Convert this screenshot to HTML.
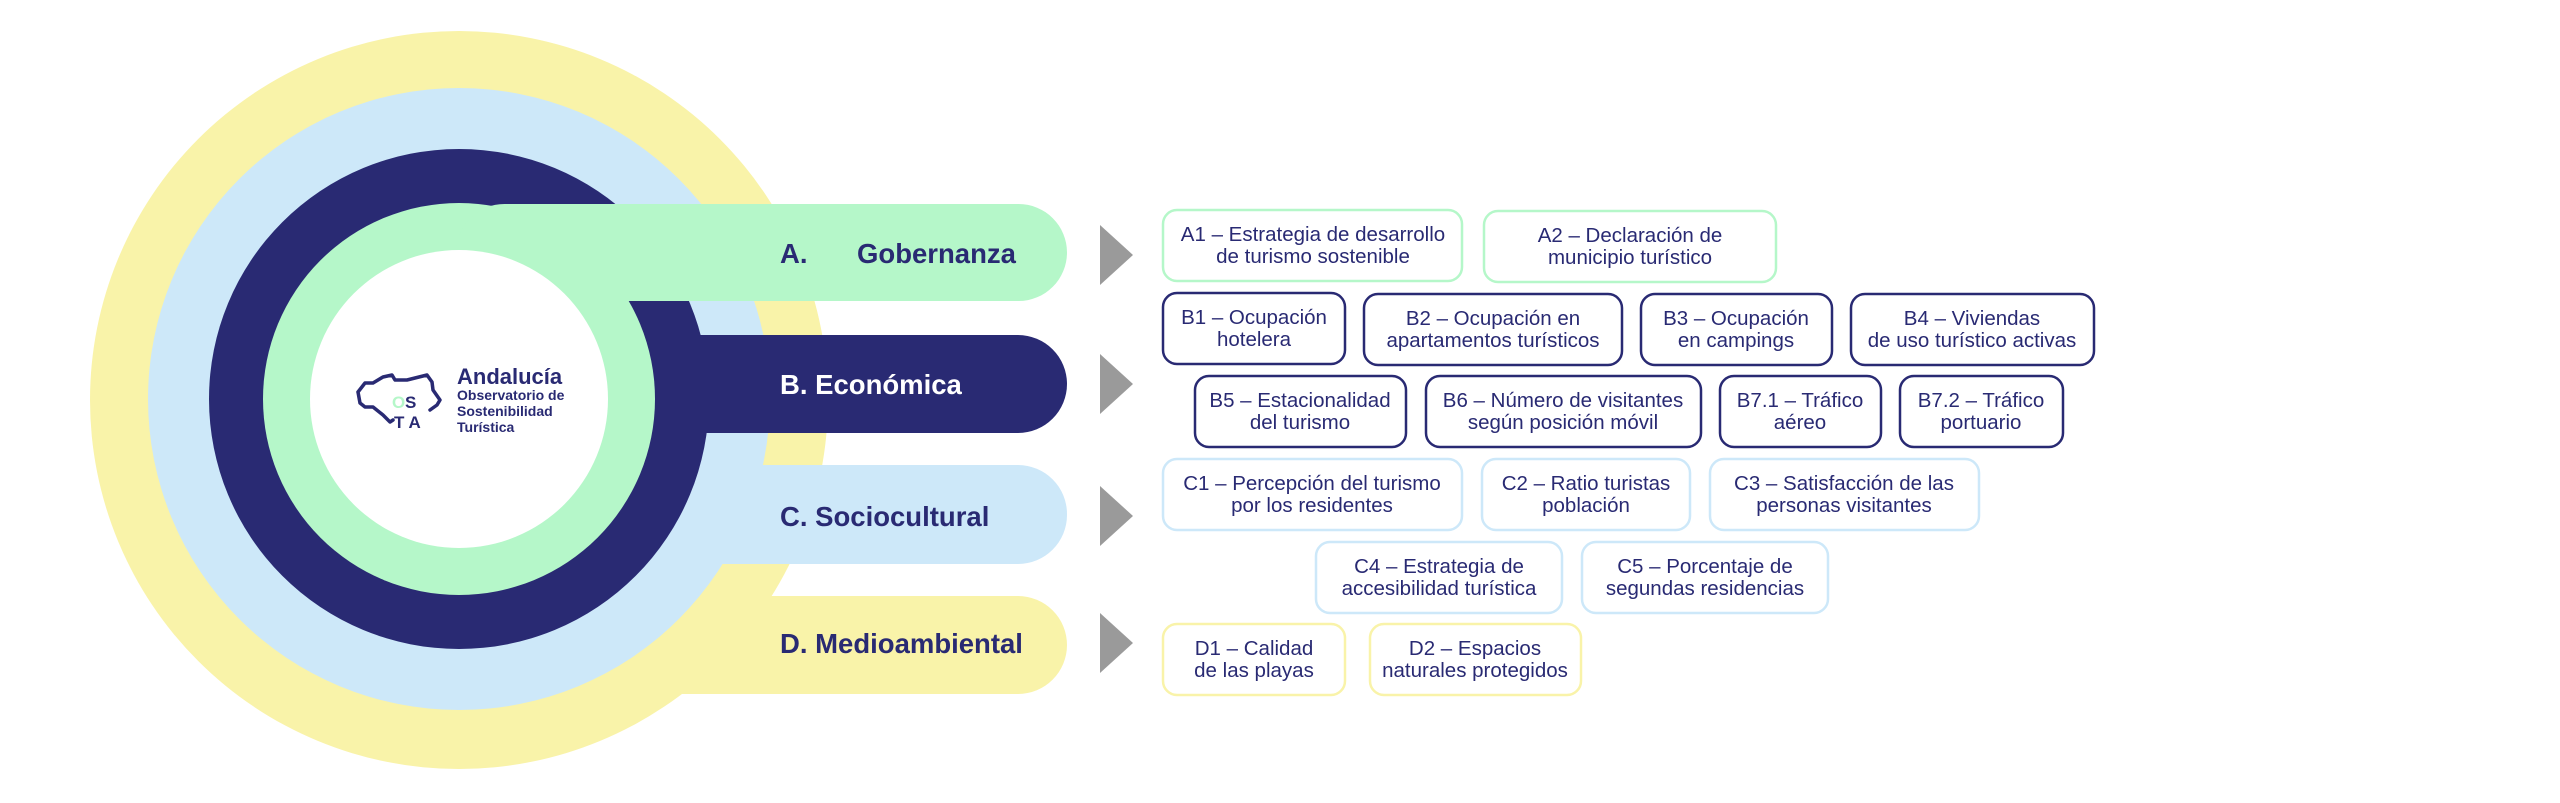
<!DOCTYPE html>
<html><head><meta charset="utf-8"><style>
html,body{margin:0;padding:0;background:#fff;}
svg{display:block}
text{font-family:"Liberation Sans",sans-serif;}
</style></head><body>
<svg width="2560" height="803" viewBox="0 0 2560 803" xmlns="http://www.w3.org/2000/svg">
<rect width="2560" height="803" fill="#fff"/>
<circle cx="459" cy="400" r="369" fill="#f9f3a9"/>
<rect x="456" y="596" width="611" height="98" rx="49" fill="#f9f3a9"/>
<circle cx="459" cy="399" r="311" fill="#cde8f9"/>
<rect x="456" y="465" width="611" height="99" rx="49" fill="#cde8f9"/>
<circle cx="459" cy="399" r="250" fill="#292a73"/>
<rect x="456" y="335" width="611" height="98" rx="49" fill="#292a73"/>
<circle cx="459" cy="399" r="196" fill="#b5f7c9"/>
<rect x="456" y="204" width="611" height="97" rx="48.5" fill="#b5f7c9"/>
<circle cx="459" cy="399" r="149" fill="#fff"/>

<path d="M358,392 L365,383 L373,383 L383,377 L392,375 L395,380 L407,380 L427,375 L432,382 L433,390 L440,400 L437,405 L430,410 M358,392 L360,403 L365,407 L373,407 L383,415 L390,422 L393,420" fill="none" stroke="#292a73" stroke-width="3.5" stroke-linejoin="round" stroke-linecap="round"/>
<text x="392" y="408" font-size="17" font-weight="bold" fill="#b5f7c9">O</text>
<text x="405" y="408" font-size="17" font-weight="bold" fill="#292a73">S</text>
<text x="394" y="428" font-size="17" font-weight="bold" fill="#292a73">T A</text>
<text x="457" y="384" font-size="22" font-weight="bold" fill="#292a73">Andalucía</text>
<text x="457" y="400" font-size="14" font-weight="bold" fill="#292a73">Observatorio de</text>
<text x="457" y="416" font-size="14" font-weight="bold" fill="#292a73">Sostenibilidad</text>
<text x="457" y="432" font-size="14" font-weight="bold" fill="#292a73">Turística</text>

<g font-size="27.5" font-weight="bold">
<text x="780" y="263" fill="#292a73">A.</text>
<text x="857" y="263" fill="#292a73">Gobernanza</text>
<text x="780" y="394" fill="#fff">B. Económica</text>
<text x="780" y="526" fill="#292a73">C. Sociocultural</text>
<text x="780" y="653" fill="#292a73">D. Medioambiental</text>
</g>

<g fill="#9a9a9a">
<polygon points="1100,225 1133,255 1100,285"/>
<polygon points="1100,354 1133,384 1100,414"/>
<polygon points="1100,486 1133,516 1100,546"/>
<polygon points="1100,613 1133,643 1100,673"/>
</g>

<g fill="#fff" stroke-width="2.5">
<g stroke="#b5f7c9">
<rect x="1163" y="210" width="299" height="71" rx="14"/>
<rect x="1484" y="211" width="292" height="71" rx="14"/>
</g>
<g stroke="#292a73">
<rect x="1163" y="293" width="182" height="71" rx="14"/>
<rect x="1364" y="294" width="258" height="71" rx="14"/>
<rect x="1641" y="294" width="191" height="71" rx="14"/>
<rect x="1851" y="294" width="243" height="71" rx="14"/>
<rect x="1195" y="376" width="211" height="71" rx="14"/>
<rect x="1426" y="376" width="275" height="71" rx="14"/>
<rect x="1720" y="376" width="161" height="71" rx="14"/>
<rect x="1900" y="376" width="163" height="71" rx="14"/>
</g>
<g stroke="#cde8f9">
<rect x="1163" y="459" width="299" height="71" rx="14"/>
<rect x="1482" y="459" width="208" height="71" rx="14"/>
<rect x="1710" y="459" width="269" height="71" rx="14"/>
<rect x="1316" y="542" width="246" height="71" rx="14"/>
<rect x="1582" y="542" width="246" height="71" rx="14"/>
</g>
<g stroke="#f9f3a9">
<rect x="1163" y="624" width="182" height="71" rx="14"/>
<rect x="1370" y="624" width="211" height="71" rx="14"/>
</g>
</g>

<g font-size="20.5" fill="#292a73" text-anchor="middle">
<text x="1313" y="241">A1 – Estrategia de desarrollo</text><text x="1313" y="263">de turismo sostenible</text>
<text x="1630" y="242">A2 – Declaración de</text><text x="1630" y="264">municipio turístico</text>
<text x="1254" y="324">B1 – Ocupación</text><text x="1254" y="346">hotelera</text>
<text x="1493" y="325">B2 – Ocupación en</text><text x="1493" y="347">apartamentos turísticos</text>
<text x="1736" y="325">B3 – Ocupación</text><text x="1736" y="347">en campings</text>
<text x="1972" y="325">B4 – Viviendas</text><text x="1972" y="347">de uso turístico activas</text>
<text x="1300" y="407">B5 – Estacionalidad</text><text x="1300" y="429">del turismo</text>
<text x="1563" y="407">B6 – Número de visitantes</text><text x="1563" y="429">según posición móvil</text>
<text x="1800" y="407">B7.1 – Tráfico</text><text x="1800" y="429">aéreo</text>
<text x="1981" y="407">B7.2 – Tráfico</text><text x="1981" y="429">portuario</text>
<text x="1312" y="490">C1 – Percepción del turismo</text><text x="1312" y="512">por los residentes</text>
<text x="1586" y="490">C2 – Ratio turistas</text><text x="1586" y="512">población</text>
<text x="1844" y="490">C3 – Satisfacción de las</text><text x="1844" y="512">personas visitantes</text>
<text x="1439" y="573">C4 – Estrategia de</text><text x="1439" y="595">accesibilidad turística</text>
<text x="1705" y="573">C5 – Porcentaje de</text><text x="1705" y="595">segundas residencias</text>
<text x="1254" y="655">D1 – Calidad</text><text x="1254" y="677">de las playas</text>
<text x="1475" y="655">D2 – Espacios</text><text x="1475" y="677">naturales protegidos</text>
</g>
</svg>
</body></html>
